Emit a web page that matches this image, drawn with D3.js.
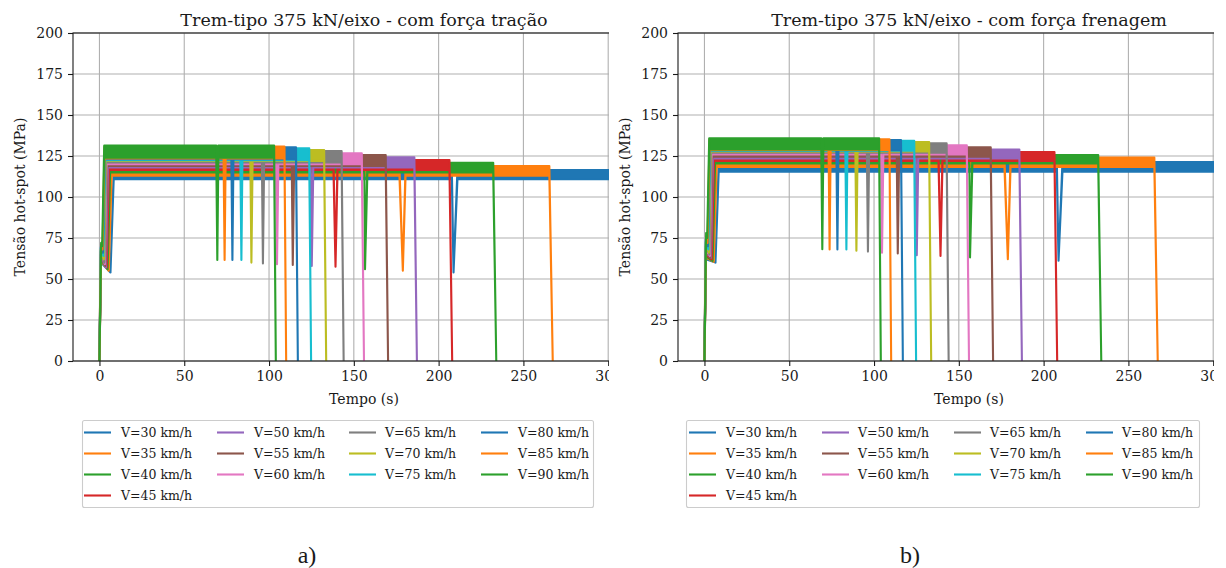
<!DOCTYPE html>
<html>
<head>
<meta charset="utf-8">
<script src="https://cdn.jsdelivr.net/npm/d3@7"></script>
<style>
  body { margin: 0; background: #fff; }
  svg { display: block; }
  text { font-family: "DejaVu Serif", serif; fill: #1a1a1a; }
</style>
</head>
<body>
<svg id="fig" width="1226" height="568"></svg>
<script>
// Train speeds and matching colour cycle
const speeds = [30, 35, 40, 45, 50, 55, 60, 65, 70, 75, 80, 85, 90];
const seriesColors = ["#1f77b4", "#ff7f0e", "#2ca02c", "#d62728", "#9467bd", "#8c564b",
                      "#e377c2", "#7f7f7f", "#bcbd22", "#17becf", "#1f77b4", "#ff7f0e", "#2ca02c"];
const xTicks = [0, 50, 100, 150, 200, 250, 300];
const yTicks = [0, 25, 50, 75, 100, 125, 150, 175, 200];

// Time history keypoints (s), one entry per speed
const endTime      = [312, 267.3, 234, 208, 187.2, 170.2, 156, 144, 133.7, 124.8, 117, 110.1, 104];
const dropDur      = [2.4, 2.0, 1.8, 1.6, 1.5, 1.4, 1.3, 1.2, 1.2, 1.1, 1.1, 1.0, 1.0];
const riseTime     = [0.9, 0.9, 0.8, 0.8, 0.8, 0.7, 0.7, 0.7, 0.7, 0.8, 0.9, 1.0, 1.0];
const kneeTime     = [6.5, 5.5, 4.8, 4.3, 3.8, 3.5, 3.2, 2.9, 2.6, 2.3, 2.0, 1.8, 1.6];
const plateauStart = [8.4, 7.2, 6.3, 5.6, 5.0, 4.6, 4.2, 3.9, 3.6, 3.4, 3.15, 3.0, 2.8];
const dipTime      = [208.8, 178.9, 156.6, 139.2, 125.2, 114, 104.7, 96.4, 89.6, 83.7, 78.4, 73.8, 69.5];
const dipPre       = [1.0, 2.0, 0.4, 1.2, 0.7, 0.6, 0.6, 0.6, 0.6, 0.6, 0.6, 0.6, 0.6];
const dipPost      = [2.3, 1.6, 1.4, 1.2, 0.9, 0.8, 0.8, 0.7, 0.7, 0.6, 0.6, 0.6, 0.6];

// Stress levels (MPa) — traction case
const riseA      = [60, 61, 62, 63, 64, 65, 66, 67, 68, 69, 70, 71, 72];
const kneeA      = [54, 55, 56, 57, 57, 58, 59, 60, 62, 64, 66, 68, 70];
const dipBottomA = [54, 55, 56, 57.5, 58, 58.5, 59, 59.5, 60, 61.6, 61.6, 61.6, 61.6];
const bandLoA    = [110.8, 113, 115, 116.5, 118, 119, 120, 121, 122, 122.5, 123, 123.5, 124];
const bandHiA    = [116.5, 118.9, 120.9, 122.6, 124.2, 125.6, 126.6, 128, 128.7, 129.7, 130.3, 130.7, 131.3];

// Stress levels (MPa) — braking case
const riseB      = [62, 63, 64, 65, 66, 67, 68, 70, 72, 73, 75, 76, 78];
const kneeB      = [60, 60.5, 61, 62, 63, 63, 64, 65, 66, 68, 70, 72, 75];
const dipBottomB = [61.2, 62, 63.2, 64, 64.5, 65.6, 66, 66.7, 67.3, 68, 68, 68, 68.1];
const bandLoB    = [115.5, 118.3, 120.5, 122, 123.5, 124.5, 126, 127, 127.8, 128.2, 128.5, 128.7, 129];
const bandHiB    = [121.3, 124, 125.6, 127.4, 129, 130.3, 131.5, 132.7, 133.5, 134.3, 134.8, 135.2, 135.8];

const legendLabels = speeds.map(v => `V=${v} km/h`);

const svg = d3.select("#fig");
const plotTop = 33, plotBottom = 361;

const panels = [
  { key: "a", title: "Trem-tipo 375 kN/eixo - com força tração",
    left: 73, right: 655, cropL: 0, cropR: 609, ylabX: 20,
    rise: riseA, knee: kneeA, dipBottom: dipBottomA, lo: bandLoA, hi: bandHiA,
    legend: { x: 82, y: 420, w: 511, h: 87, handleX: [84, 217, 349, 481], textX: [121, 254, 385, 518] },
    caption: "a)", capX: 307 },
  { key: "b", title: "Trem-tipo 375 kN/eixo - com força frenagem",
    left: 678, right: 1260, cropL: 612, cropR: 1214, ylabX: 625,
    rise: riseB, knee: kneeB, dipBottom: dipBottomB, lo: bandLoB, hi: bandHiB,
    legend: { x: 686, y: 420, w: 513, h: 87, handleX: [689, 822, 954, 1086], textX: [726, 858, 990, 1122] },
    caption: "b)", capX: 910 }
];

const defs = svg.append("defs");

// [time, lower envelope, upper envelope] for one speed
function seriesPoints(p, i) {
  const lo = p.lo[i], hi = p.hi[i];
  return [
    [0, 0, 0],
    [riseTime[i], p.rise[i], p.rise[i]],
    [kneeTime[i], p.knee[i], p.knee[i]],
    [plateauStart[i], lo, hi],
    [dipTime[i] - dipPre[i], lo, hi],
    [dipTime[i], p.dipBottom[i], p.dipBottom[i]],
    [dipTime[i] + dipPost[i], lo, hi],
    [endTime[i] - dropDur[i], lo, hi],
    [endTime[i], 0, 0]
  ];
}

panels.forEach(p => {
  // whole panel is cut at its right-hand edge
  defs.append("clipPath").attr("id", "crop-" + p.key)
    .append("rect").attr("x", p.cropL).attr("y", 0)
    .attr("width", p.cropR - p.cropL).attr("height", 568);
  defs.append("clipPath").attr("id", "plot-" + p.key)
    .append("rect").attr("x", p.left).attr("y", plotTop)
    .attr("width", p.right - p.left).attr("height", plotBottom - plotTop);

  const g = svg.append("g").attr("clip-path", `url(#crop-${p.key})`);

  const x = d3.scaleLinear().domain([-15.6, 327.6]).range([p.left, p.right]);
  const y = d3.scaleLinear().domain([0, 200]).range([plotBottom, plotTop]);

  // grid
  const grid = g.append("g").attr("stroke", "#b0b0b0").attr("stroke-width", 1.1);
  grid.selectAll(".gx").data(xTicks).join("line")
    .attr("x1", d => x(d)).attr("x2", d => x(d))
    .attr("y1", plotTop).attr("y2", plotBottom);
  grid.selectAll(".gy").data(yTicks).join("line")
    .attr("x1", p.left).attr("x2", p.right)
    .attr("y1", d => y(d)).attr("y2", d => y(d));

  // series, slowest first so the fastest sits on top
  const area = d3.area()
    .x(d => x(d[0])).y0(d => y(d[1])).y1(d => y(d[2]));
  const data = g.append("g").attr("clip-path", `url(#plot-${p.key})`);
  speeds.forEach((v, i) => {
    data.append("path")
      .datum(seriesPoints(p, i))
      .attr("d", area)
      .attr("fill", seriesColors[i])
      .attr("stroke", seriesColors[i])
      .attr("stroke-width", 2.1)
      .attr("stroke-linejoin", "round");
  });

  // axes
  const ax = g.append("g").attr("transform", `translate(0,${plotBottom})`)
    .call(d3.axisBottom(x).tickValues(xTicks).tickSize(5).tickPadding(5));
  const ay = g.append("g").attr("transform", `translate(${p.left},0)`)
    .call(d3.axisLeft(y).tickValues(yTicks).tickSize(5).tickPadding(5));
  [ax, ay].forEach(a => {
    a.select(".domain").remove();
    a.selectAll(".tick line").attr("stroke", "#1a1a1a").attr("stroke-width", 1.1);
    a.selectAll(".tick text").attr("font-size", 14).attr("fill", "#1a1a1a")
      .attr("font-family", "DejaVu Serif");
  });

  // spines
  const sp = g.append("g").attr("stroke", "#1a1a1a").attr("stroke-width", 1.1).attr("fill", "none");
  sp.append("rect").attr("x", p.left).attr("y", plotTop)
    .attr("width", p.right - p.left).attr("height", plotBottom - plotTop);

  // titles and labels
  g.append("text").attr("x", (p.left + p.right) / 2).attr("y", 26)
    .attr("text-anchor", "middle").attr("font-size", 17.5).text(p.title);
  g.append("text").attr("x", (p.left + p.right) / 2).attr("y", 404)
    .attr("text-anchor", "middle").attr("font-size", 14).text("Tempo (s)");
  g.append("text")
    .attr("transform", `translate(${p.ylabX + 5},${(plotTop + plotBottom) / 2}) rotate(-90)`)
    .attr("text-anchor", "middle").attr("font-size", 14).text("Tensão hot-spot (MPa)");

  // legend: four columns, filled column by column
  const L = p.legend;
  const lg = g.append("g");
  lg.append("rect").attr("x", L.x + 0.5).attr("y", L.y + 0.5).attr("width", L.w).attr("height", L.h)
    .attr("rx", 2).attr("fill", "#fff").attr("stroke", "#cccccc").attr("stroke-width", 1.1);
  const colSizes = [4, 3, 3, 3];
  let idx = 0;
  colSizes.forEach((n, c) => {
    for (let r = 0; r < n; r++, idx++) {
      const cy = 432.5 + r * 21;
      lg.append("line").attr("x1", L.handleX[c]).attr("x2", L.handleX[c] + 27)
        .attr("y1", cy).attr("y2", cy)
        .attr("stroke", seriesColors[idx]).attr("stroke-width", 2.1);
      lg.append("text").attr("x", L.textX[c]).attr("y", cy).attr("dy", "0.35em")
        .attr("font-size", 12.5).text(legendLabels[idx]);
    }
  });

  // sub-figure caption
  svg.append("text").attr("x", p.capX).attr("y", 563).attr("text-anchor", "middle")
    .attr("font-size", 24).style("font-family", "Liberation Serif")
    .attr("fill", "#000").text(p.caption);
});
</script>
</body>
</html>
